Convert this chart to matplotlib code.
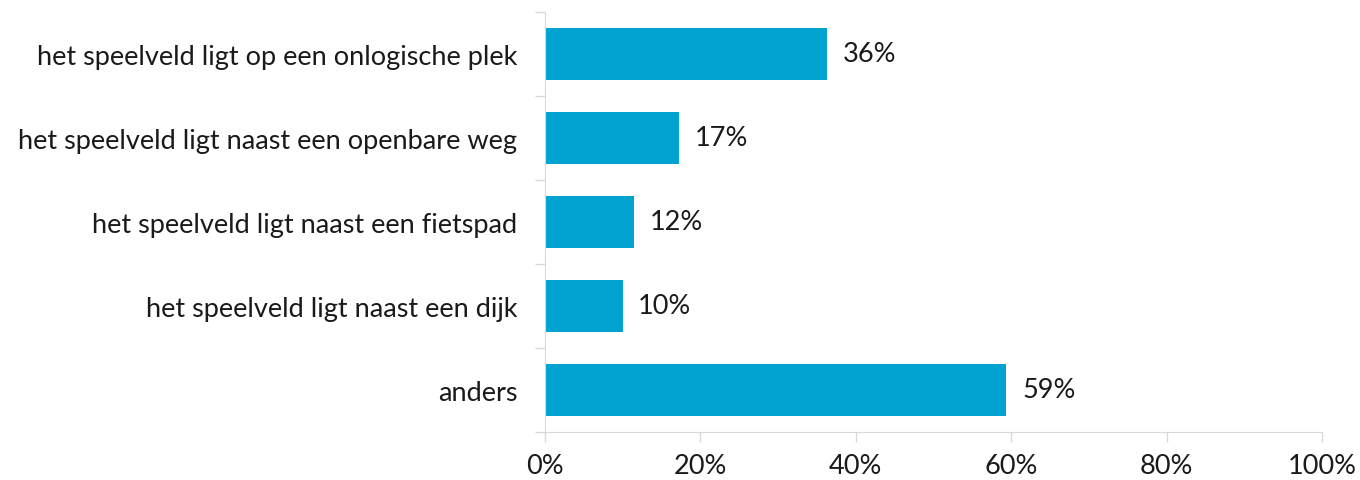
import matplotlib.pyplot as plt
from matplotlib.ticker import PercentFormatter

categories = [
    "het speelveld ligt op een onlogische plek",
    "het speelveld ligt naast een openbare weg",
    "het speelveld ligt naast een fietspad",
    "het speelveld ligt naast een dijk",
    "anders",
]
values = [36.3, 17.3, 11.5, 10.0, 59.4]
xticks = [0, 20, 40, 60, 80, 100]

plt.rcParams["font.family"] = ["Lato", "DejaVu Sans"]
grey = "#d9d9d9"
fsize = 19.5

fig = plt.figure(figsize=(13.6, 4.81), dpi=100)
ax = fig.add_axes([0.4007, 0.0998, 0.5713, 0.8732])

pos = list(range(len(categories)))
ax.barh(pos, values, height=0.62, color="#02a3d1")
for p, v in zip(pos, values):
    ax.text(v + 2.0, p, f"{v:.0f}%", va="center", ha="left", fontsize=fsize, color="#1a1a1a")

ax.set_xlim(0, 100)
ax.set_ylim(len(categories) - 0.5, -0.5)
ax.set_xticks(xticks)
ax.xaxis.set_major_formatter(PercentFormatter(decimals=0))
ax.set_yticks(pos)
ax.set_yticklabels(categories)
ax.set_yticks([i - 0.5 for i in range(len(categories) + 1)], minor=True)

ax.tick_params(axis="y", which="major", length=0, pad=20, labelsize=fsize, labelcolor="#1a1a1a")
ax.tick_params(axis="y", which="minor", length=7, width=1, color=grey)
ax.tick_params(axis="x", length=7, width=1, color=grey, pad=8, labelsize=fsize, labelcolor="#1a1a1a")

for s in ["top", "right"]:
    ax.spines[s].set_visible(False)
ax.spines["left"].set_color(grey)
ax.spines["bottom"].set_color(grey)

fig.savefig("out.png", dpi=100)
